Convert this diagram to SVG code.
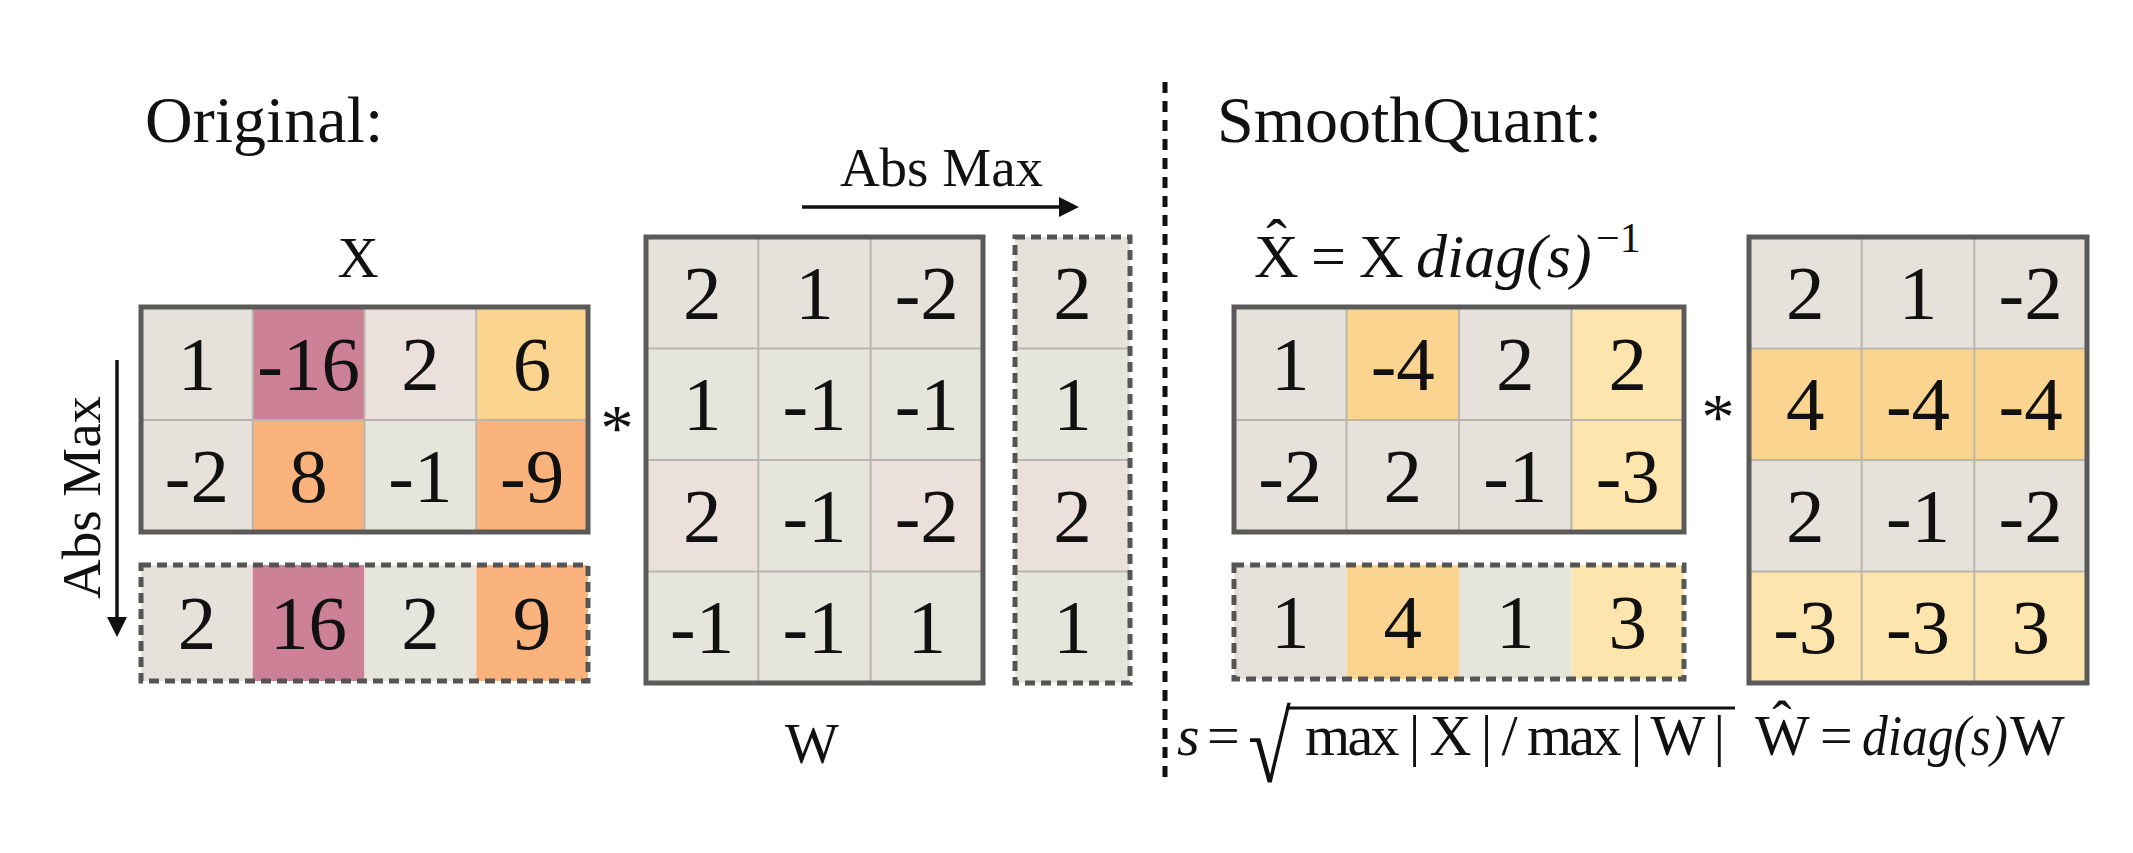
<svg xmlns="http://www.w3.org/2000/svg" width="2133" height="853" viewBox="0 0 2133 853">
  <defs>
    <style>
      text { font-family: "Liberation Serif", "Times New Roman", serif; fill: #111; }
      .num { font-size: 77px; text-anchor: middle; }
      .title { font-size: 66px; }
      .lbl { font-size: 57px; }
      .ft { font-size: 62px; }
      .fb { font-size: 58px; }
      .it { font-style: italic; }
      .grid { stroke: #bab6ae; stroke-width: 2; fill: none; }
      .frame { fill: none; stroke: #5a5a5a; stroke-width: 5; }
      .dashed { fill: none; stroke: #555; stroke-width: 5; stroke-dasharray: 10 6; }
      .arrow { stroke: #111; stroke-width: 3.5; fill: none; }
      .divider { stroke: #111; stroke-width: 5; stroke-dasharray: 11 8; }
      .n { fill: #e6e1da; }
      .g { fill: #e5e5dc; }
      .p { fill: #ece0dc; }
      .m { fill: #cc8197; }
      .o { fill: #fbb37d; }
      .y { fill: #fbd58f; }
      .l { fill: #fde5ad; }
    </style>
    <marker id="head" viewBox="0 0 20 20" markerUnits="userSpaceOnUse" markerWidth="20" markerHeight="20" refX="10" refY="10" orient="auto">
      <path d="M0,0 L20,10 L0,20 Z" fill="#111"/>
    </marker>
  </defs>

  <rect width="2133" height="853" fill="#ffffff"/>

  <!-- left half: original activations and weights -->
  <g id="title-original">
    <text class="title" x="145" y="142">Original:</text>
  </g>

  <g id="matrix-x">
    <text class="lbl" x="358" y="277" text-anchor="middle">X</text>
    <rect class="n" x="141" y="307" width="111.75" height="113"/>
    <rect class="m" x="252.75" y="307" width="111.75" height="113"/>
    <rect class="p" x="364.5" y="307" width="111.75" height="113"/>
    <rect class="y" x="476.25" y="307" width="111.75" height="113"/>
    <rect class="n" x="141" y="420" width="111.75" height="112"/>
    <rect class="o" x="252.75" y="420" width="111.75" height="112"/>
    <rect class="g" x="364.5" y="420" width="111.75" height="112"/>
    <rect class="o" x="476.25" y="420" width="111.75" height="112"/>
    <path class="grid" d="M252.75,307 V532 M364.5,307 V532 M476.25,307 V532 M141,420 H588"/>
    <rect class="frame" x="141" y="307" width="447" height="225"/>
    <text class="num" x="196.9" y="389.5">1</text>
    <text class="num" x="308.6" y="389.5">-16</text>
    <text class="num" x="420.4" y="389.5">2</text>
    <text class="num" x="532.1" y="389.5">6</text>
    <text class="num" x="196.9" y="502">-2</text>
    <text class="num" x="308.6" y="502">8</text>
    <text class="num" x="420.4" y="502">-1</text>
    <text class="num" x="532.1" y="502">-9</text>
  </g>

  <g id="absmax-x">
    <rect class="n" x="141" y="565" width="111.75" height="116"/>
    <rect class="m" x="252.75" y="565" width="111.75" height="116"/>
    <rect class="g" x="364.5" y="565" width="111.75" height="116"/>
    <rect class="o" x="476.25" y="565" width="111.75" height="116"/>
    <rect class="dashed" x="141" y="565" width="447" height="116"/>
    <text class="num" x="196.9" y="649">2</text>
    <text class="num" x="308.6" y="649">16</text>
    <text class="num" x="420.4" y="649">2</text>
    <text class="num" x="532.1" y="649">9</text>
  </g>

  <g id="op-left">
    <text x="617" y="450" font-size="66" text-anchor="middle">*</text>
  </g>

  <g id="matrix-w">
    <rect class="n" x="646" y="237" width="337" height="111.5"/>
    <rect class="g" x="646" y="348.5" width="337" height="111.5"/>
    <rect class="p" x="646" y="460" width="112.33" height="111.5"/>
    <rect class="g" x="758.33" y="460" width="112.34" height="111.5"/>
    <rect class="p" x="870.67" y="460" width="112.33" height="111.5"/>
    <rect class="g" x="646" y="571.5" width="337" height="111.5"/>
    <path class="grid" d="M758.33,237 V683 M870.67,237 V683 M646,348.5 H983 M646,460 H983 M646,571.5 H983"/>
    <rect class="frame" x="646" y="237" width="337" height="446"/>
    <text class="num" x="702.2" y="319">2</text>
    <text class="num" x="814.5" y="319">1</text>
    <text class="num" x="926.8" y="319">-2</text>
    <text class="num" x="702.2" y="430">1</text>
    <text class="num" x="814.5" y="430">-1</text>
    <text class="num" x="926.8" y="430">-1</text>
    <text class="num" x="702.2" y="542">2</text>
    <text class="num" x="814.5" y="542">-1</text>
    <text class="num" x="926.8" y="542">-2</text>
    <text class="num" x="702.2" y="653">-1</text>
    <text class="num" x="814.5" y="653">-1</text>
    <text class="num" x="926.8" y="653">1</text>
    <text class="lbl" x="812" y="763" text-anchor="middle">W</text>
  </g>

  <g id="absmax-w">
    <rect class="n" x="1015" y="237" width="115" height="111.5"/>
    <rect class="g" x="1015" y="348.5" width="115" height="111.5"/>
    <rect class="p" x="1015" y="460" width="115" height="111.5"/>
    <rect class="g" x="1015" y="571.5" width="115" height="111.5"/>
    <path class="grid" d="M1015,348.5 H1130 M1015,460 H1130 M1015,571.5 H1130"/>
    <rect class="dashed" x="1015" y="237" width="115" height="446"/>
    <text class="num" x="1072.5" y="319">2</text>
    <text class="num" x="1072.5" y="430">1</text>
    <text class="num" x="1072.5" y="542">2</text>
    <text class="num" x="1072.5" y="653">1</text>
  </g>

  <!-- reduction arrows with their captions -->
  <g id="connectors">
    <line class="arrow" x1="117" y1="360" x2="117" y2="627" marker-end="url(#head)"/>
    <line class="arrow" x1="802" y1="207" x2="1069" y2="207" marker-end="url(#head)"/>
  </g>
  <g id="captions">
    <text x="100" y="497.5" font-size="55" text-anchor="middle" transform="rotate(-90 100 497.5)">Abs Max</text>
    <text x="941.5" y="186" font-size="55" text-anchor="middle">Abs Max</text>
  </g>

  <g id="divider">
    <line class="divider" x1="1165" y1="82" x2="1165" y2="782"/>
  </g>

  <!-- right half: smoothed activations and weights -->
  <g id="title-smoothquant">
    <text class="title" x="1217" y="142">SmoothQuant:</text>
  </g>

  <g id="matrix-xhat">
    <text class="ft" x="1254" y="277">X</text>
    <text class="ft" x="1276.5" y="262" text-anchor="middle">ˆ</text>
    <text class="ft" x="1311" y="277">=</text>
    <text class="ft" x="1359" y="277">X</text>
    <text class="ft it" x="1416" y="277">diag(s)</text>
    <text x="1596" y="252" font-size="42">−1</text>
    <rect class="n" x="1234" y="307" width="112.5" height="113"/>
    <rect class="y" x="1346.5" y="307" width="112.5" height="113"/>
    <rect class="n" x="1459" y="307" width="112.5" height="113"/>
    <rect class="l" x="1571.5" y="307" width="112.5" height="113"/>
    <rect class="n" x="1234" y="420" width="112.5" height="112"/>
    <rect class="n" x="1346.5" y="420" width="112.5" height="112"/>
    <rect class="n" x="1459" y="420" width="112.5" height="112"/>
    <rect class="l" x="1571.5" y="420" width="112.5" height="112"/>
    <path class="grid" d="M1346.5,307 V532 M1459,307 V532 M1571.5,307 V532 M1234,420 H1684"/>
    <rect class="frame" x="1234" y="307" width="450" height="225"/>
    <text class="num" x="1290.25" y="389.5">1</text>
    <text class="num" x="1402.75" y="389.5">-4</text>
    <text class="num" x="1515.25" y="389.5">2</text>
    <text class="num" x="1627.75" y="389.5">2</text>
    <text class="num" x="1290.25" y="502">-2</text>
    <text class="num" x="1402.75" y="502">2</text>
    <text class="num" x="1515.25" y="502">-1</text>
    <text class="num" x="1627.75" y="502">-3</text>
  </g>

  <g id="absmax-xhat">
    <rect class="n" x="1234" y="565" width="112.5" height="114"/>
    <rect class="y" x="1346.5" y="565" width="112.5" height="114"/>
    <rect class="g" x="1459" y="565" width="112.5" height="114"/>
    <rect class="l" x="1571.5" y="565" width="112.5" height="114"/>
    <rect class="dashed" x="1234" y="565" width="450" height="114"/>
    <text class="num" x="1290.25" y="648">1</text>
    <text class="num" x="1402.75" y="648">4</text>
    <text class="num" x="1515.25" y="648">1</text>
    <text class="num" x="1627.75" y="648">3</text>
  </g>

  <g id="formula-s">
    <text class="fb it" x="1177" y="755">s</text>
    <text class="fb" x="1207" y="755">=</text>
    <text font-size="100" transform="translate(1248 782) scale(0.78 1)">√</text>
    <line x1="1286" y1="708" x2="1735" y2="708" stroke="#111" stroke-width="3"/>
    <text class="fb" x="1305" y="755" textLength="420" lengthAdjust="spacing">max | X | / max | W |</text>
  </g>

  <g id="op-right">
    <text x="1718" y="439" font-size="66" text-anchor="middle">*</text>
  </g>

  <g id="matrix-what">
    <rect class="n" x="1749" y="237" width="338" height="111.5"/>
    <rect class="y" x="1749" y="348.5" width="338" height="111.5"/>
    <rect class="n" x="1749" y="460" width="338" height="111.5"/>
    <rect class="l" x="1749" y="571.5" width="338" height="111.5"/>
    <path class="grid" d="M1861.67,237 V683 M1974.33,237 V683 M1749,348.5 H2087 M1749,460 H2087 M1749,571.5 H2087"/>
    <rect class="frame" x="1749" y="237" width="338" height="446"/>
    <text class="num" x="1805.3" y="319">2</text>
    <text class="num" x="1918" y="319">1</text>
    <text class="num" x="2030.7" y="319">-2</text>
    <text class="num" x="1805.3" y="430">4</text>
    <text class="num" x="1918" y="430">-4</text>
    <text class="num" x="2030.7" y="430">-4</text>
    <text class="num" x="1805.3" y="542">2</text>
    <text class="num" x="1918" y="542">-1</text>
    <text class="num" x="2030.7" y="542">-2</text>
    <text class="num" x="1805.3" y="653">-3</text>
    <text class="num" x="1918" y="653">-3</text>
    <text class="num" x="2030.7" y="653">3</text>
    <text class="fb" x="1755" y="755">W</text>
    <text class="fb" x="1782" y="740" text-anchor="middle">ˆ</text>
    <text class="fb" x="1820" y="755">=</text>
    <text class="fb it" x="1862" y="755" textLength="146" lengthAdjust="spacingAndGlyphs">diag(s)</text>
    <text class="fb" x="2010" y="755">W</text>
  </g>
</svg>
